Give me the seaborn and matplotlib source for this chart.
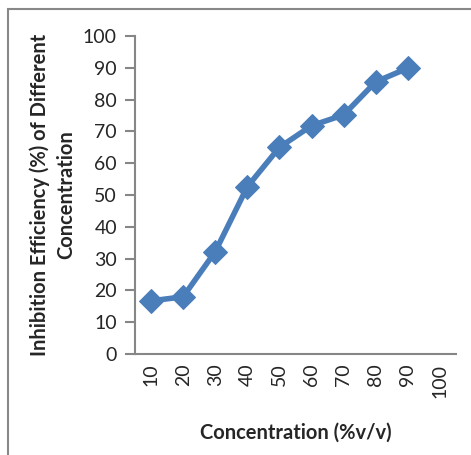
import matplotlib
matplotlib.use("Agg")
import matplotlib.pyplot as plt
import seaborn as sns
import pandas as pd
from matplotlib.patches import Rectangle

categories = ["10", "20", "30", "40", "50", "60", "70", "80", "90", "100"]
concentration = ["10", "20", "30", "40", "50", "60", "70", "80", "90"]
efficiency = [16.7, 18.0, 32.2, 52.6, 65.0, 71.8, 75.2, 85.6, 89.9]
y_ticks = [0, 10, 20, 30, 40, 50, 60, 70, 80, 90, 100]

sns.set_theme(style="white")
plt.rcParams["font.family"] = ["Lato", "DejaVu Sans"]

df = pd.DataFrame({
    "pos": [categories.index(c) for c in concentration],
    "eff": efficiency,
})

fig = plt.figure(figsize=(4.71, 4.55), dpi=100)
ax = fig.add_axes([135/471, 1-354/455, (456-135)/471, (354-36)/455])

blue = "#4A7EBB"
sns.lineplot(data=df, x="pos", y="eff", ax=ax, color=blue, linewidth=4,
             marker="D", markersize=12, markeredgecolor=blue, markerfacecolor=blue)

ax.set_xlim(-0.5, len(categories) - 0.5)
ax.set_ylim(0, 100)
ax.set_yticks(y_ticks)
ax.set_yticklabels([str(v) for v in y_ticks], fontsize=14)
ax.set_xticks(range(len(categories)))
ax.set_xticklabels(categories, rotation=90, fontsize=14)

axis_col = "#868686"
for s in ["top", "right"]:
    ax.spines[s].set_visible(False)
for s in ["left", "bottom"]:
    ax.spines[s].set_color(axis_col)
    ax.spines[s].set_linewidth(1.5)
ax.tick_params(axis="y", direction="out", length=7, width=1.5, color=axis_col, pad=6, left=True)
ax.tick_params(axis="x", length=0, pad=7, bottom=True)

ax.set_xlabel("Concentration (%v/v)", fontsize=14.5, fontweight="bold", labelpad=18)
ax.set_ylabel("Inhibition Efficiency (%) of Different\nConcentration", fontsize=14.5,
              fontweight="bold", labelpad=5, linespacing=1.4)
ax.grid(False)

fig.patches.append(Rectangle((7.5/471, -0.1), 1.2, (1-9/455) + 0.1,
                             transform=fig.transFigure, fill=False,
                             edgecolor="#888888", linewidth=1.5))

fig.savefig("out.png", dpi=100)
